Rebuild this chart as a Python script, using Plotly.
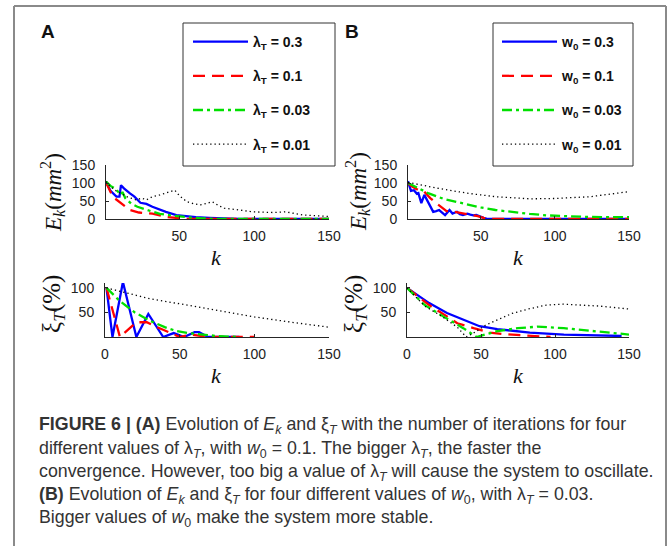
import plotly.graph_objects as go

W, H = 669, 546

# ---------------- data ----------------
# Panel A, top: E_k for lambda_T values
a_top_k_03 = [1, 4, 8, 10, 11, 13, 17, 20, 24, 28, 32, 37, 41, 48, 55, 61, 70, 80, 90, 150]
a_top_e_03 = [104, 78, 62, 62, 94, 85, 71, 62, 45, 42, 34, 25, 20, 11, 7, 5, 3, 1, 0, 0]
a_top_k_01 = [1, 4, 7, 12, 17, 23, 32, 41, 48, 55, 150]
a_top_e_01 = [102, 75, 57, 40, 25, 18, 15, 6, 2, 0, 0]
a_top_k_003 = [1, 4, 7, 11, 12, 14, 18, 22, 27, 32, 37, 43, 50, 55, 65, 75, 150]
a_top_e_003 = [104, 92, 85, 67, 75, 57, 42, 34, 27, 20, 14, 11, 7, 5, 2, 0, 0]
a_top_k_001 = [1, 4, 7, 11, 15, 21, 25, 28, 32, 37, 44, 47, 50, 55, 60, 64, 68, 72, 76, 80,
               90, 99, 113, 121, 133, 141, 150]
a_top_e_001 = [104, 90, 80, 71, 62, 53, 58, 53, 62, 67, 76, 80, 65, 48, 42, 39, 43, 48, 38, 30,
               25, 20, 18, 20, 11, 9, 7]

# Panel A, bottom: xi_T (%)
a_bot_k_03 = [1, 5, 12, 21, 29, 39, 46, 53, 60, 63, 69, 90]
a_bot_x_03 = [100, 0, 112, 0, 47, 0, 8, 0, 10, 10, 0, 0]
a_bot_k_01 = [1, 10, 21, 28, 35, 50, 57, 62, 70, 100]
a_bot_x_01 = [100, 0, 30, 30, 20, 0, 5, 3, 0, 0]
a_bot_k_003 = [1, 10, 20, 30, 40, 48, 56, 64, 75, 90]
a_bot_x_003 = [100, 73, 50, 33, 20, 12, 8, 5, 2, 0]
a_bot_k_001 = [1, 15, 30, 55, 80, 100, 125, 150]
a_bot_x_001 = [100, 90, 78, 65, 52, 41, 30, 20]

# Panel B, top: E_k for w_0 values
b_top_k_03 = [1, 3, 5, 7, 8, 10, 12, 14, 16, 18, 20, 22, 24, 26, 29, 31, 34, 36, 38, 41,
              43, 45, 47, 50, 52, 55, 150]
b_top_e_03 = [105, 78, 80, 70, 72, 44, 67, 50, 35, 20, 22, 25, 18, 11, 25, 15, 20, 13, 11, 15,
              12, 10, 11, 6, 3, 0, 0]
b_top_k_01 = [1, 3, 6, 10, 12, 16, 20, 24, 27, 31, 35, 38, 44, 48, 52, 56, 150]
b_top_e_01 = [100, 92, 85, 76, 76, 58, 44, 30, 22, 21, 18, 15, 11, 8, 3, 0, 0]
b_top_k_003 = [1, 8, 15, 25, 38, 50, 60, 72, 83, 95, 105, 120, 135, 150]
b_top_e_003 = [100, 85, 71, 56, 44, 32, 25, 19, 14, 10, 8, 6, 5, 5]
b_top_k_001 = [1, 20, 42, 60, 83, 100, 124, 140, 150]
b_top_e_001 = [102, 86, 71, 62, 56, 57, 62, 70, 76]

# Panel B, bottom: xi_T (%)
b_bot_k_03 = [0, 15, 27, 38, 49, 61, 83, 106, 125, 145]
b_bot_x_03 = [100, 69, 49, 35, 22, 16, 9, 5, 3, 2]
b_bot_k_01 = [0, 15, 27, 34, 45, 56, 65, 74, 85, 97]
b_bot_x_01 = [100, 65, 42, 28, 18, 9, 6, 4, 2, 0]
b_bot_k_003 = [0, 12, 25, 38, 47, 55, 61, 75, 88, 106, 128, 150]
b_bot_x_003 = [100, 65, 41, 18, 0, 6, 12, 18, 21, 18, 12, 5]
b_bot_k_001 = [0, 12, 22, 34, 40, 46, 53, 62, 71, 82, 94, 105, 117, 130, 150]
b_bot_x_001 = [100, 63, 45, 20, 0, 10, 24, 36, 48, 57, 65, 67, 65, 63, 57]

a_labels = ["0.3", "0.1", "0.03", "0.01"]
b_labels = ["0.3", "0.1", "0.03", "0.01"]

x_ticks_top = [50, 100, 150]
x_ticks_bot = [0, 50, 100, 150]
y_ticks_top = [0, 50, 100, 150]
y_ticks_bot = [50, 100]

# ---------------- styles ----------------
styles = [
    dict(color="#0000FF", width=2.3, dash="solid"),
    dict(color="#FF0000", width=2.3, dash="12px,7px"),
    dict(color="#00E000", width=2.3, dash="10px,4px,3px,4px"),
    dict(color="#000000", width=1.3, dash="1.3px,3px"),
]

def px_x(p):
    return p / W

def px_y(p):
    return 1 - p / H

fig = go.Figure()

panels = {
    "A": dict(top=[(a_top_k_03, a_top_e_03), (a_top_k_01, a_top_e_01), (a_top_k_003, a_top_e_003), (a_top_k_001, a_top_e_001)],
              bot=[(a_bot_k_03, a_bot_x_03), (a_bot_k_01, a_bot_x_01), (a_bot_k_003, a_bot_x_003), (a_bot_k_001, a_bot_x_001)],
              labels=a_labels, sym="λ<sub>T</sub>", legend="legend",
              xt="x", yt="y", xb="x2", yb="y2"),
    "B": dict(top=[(b_top_k_03, b_top_e_03), (b_top_k_01, b_top_e_01), (b_top_k_003, b_top_e_003), (b_top_k_001, b_top_e_001)],
              bot=[(b_bot_k_03, b_bot_x_03), (b_bot_k_01, b_bot_x_01), (b_bot_k_003, b_bot_x_003), (b_bot_k_001, b_bot_x_001)],
              labels=b_labels, sym="w<sub>0</sub>", legend="legend2",
              xt="x3", yt="y3", xb="x4", yb="y4"),
}

for name, p in panels.items():
    for i, ((kt, et), (kb, xb), lab) in enumerate(zip(p["top"], p["bot"], p["labels"])):
        grp = f"{name}{i}"
        fig.add_trace(go.Scatter(x=kt, y=et, mode="lines", line=styles[i],
                                 name=f"<b>{p['sym']} = {lab}</b>", legendgroup=grp,
                                 legend=p["legend"], xaxis=p["xt"], yaxis=p["yt"]))
        fig.add_trace(go.Scatter(x=kb, y=xb, mode="lines", line=styles[i],
                                 showlegend=False, legendgroup=grp, legend=p["legend"],
                                 xaxis=p["xb"], yaxis=p["yb"]))

tickfont = dict(family="Liberation Sans, Arial, sans-serif", size=14, color="#222")
axis_common = dict(showline=True, linecolor="#262626", linewidth=1, ticks="inside",
                   ticklen=3, tickcolor="#262626", showgrid=False, zeroline=False,
                   tickfont=tickfont, automargin=False)

top_y = [px_y(219), px_y(165)]
bot_y = [px_y(337), px_y(283)]

fig.update_layout(
    xaxis=dict(domain=[px_x(106), px_x(329)], range=[1, 150], tickvals=x_ticks_top, anchor="y", ticklabelstandoff=4, **axis_common),
    yaxis=dict(domain=top_y, range=[0, 150], tickvals=y_ticks_top, anchor="x", ticklabelstandoff=7, **axis_common),
    xaxis2=dict(domain=[px_x(105), px_x(329)], range=[0, 150], tickvals=x_ticks_bot, anchor="y2", ticklabelstandoff=4, **axis_common),
    yaxis2=dict(domain=bot_y, range=[0, 110], tickvals=y_ticks_bot, anchor="x2", ticklabelstandoff=7, **axis_common),
    xaxis3=dict(domain=[px_x(408), px_x(629)], range=[1, 150], tickvals=x_ticks_top, anchor="y3", ticklabelstandoff=4, **axis_common),
    yaxis3=dict(domain=top_y, range=[0, 150], tickvals=y_ticks_top, anchor="x3", ticklabelstandoff=7, **axis_common),
    xaxis4=dict(domain=[px_x(407), px_x(629)], range=[0, 150], tickvals=x_ticks_bot, anchor="y4", ticklabelstandoff=4, **axis_common),
    yaxis4=dict(domain=bot_y, range=[0, 110], tickvals=y_ticks_bot, anchor="x4", ticklabelstandoff=7, **axis_common),
)

legend_common = dict(bgcolor="rgba(0,0,0,0)", borderwidth=0, tracegroupgap=13,
                     font=dict(family="Liberation Sans, Arial, sans-serif", size=14, color="#111"),
                     xanchor="left", yanchor="top", itemwidth=55, traceorder="grouped")
fig.update_layout(
    legend=dict(x=px_x(188), y=px_y(26), **legend_common),
    legend2=dict(x=px_x(497), y=px_y(26), **legend_common),
)

shapes = []
# legend boxes
for x0, x1 in [(183, 335), (493, 633)]:
    shapes.append(dict(type="rect", xref="paper", yref="paper", x0=px_x(x0), x1=px_x(x1),
                       y0=px_y(166), y1=px_y(23), line=dict(color="#333", width=1)))
# outer gray frame
frame = dict(color="#8a8a8a", width=2)
shapes.append(dict(type="line", xref="paper", yref="paper", x0=px_x(14), x1=px_x(666), y0=px_y(6), y1=px_y(6), line=frame))
shapes.append(dict(type="line", xref="paper", yref="paper", x0=px_x(14), x1=px_x(14), y0=px_y(6), y1=0, line=frame))
shapes.append(dict(type="line", xref="paper", yref="paper", x0=px_x(666), x1=px_x(666), y0=px_y(6), y1=0, line=frame))

serif = "Liberation Serif, Times New Roman, serif"
sans = "Liberation Sans, Arial, sans-serif"
ann = []
# panel letters
ann.append(dict(text="<b>A</b>", x=px_x(48), y=px_y(31), font=dict(family=sans, size=19, color="#111")))
ann.append(dict(text="<b>B</b>", x=px_x(352), y=px_y(31), font=dict(family=sans, size=19, color="#111")))
# axis titles
for xc in (52, 357):
    ann.append(dict(text="<i>E</i><sub><i>k</i></sub>(<i>mm</i><sup>2</sup>)", x=px_x(xc), y=px_y(192),
                    textangle=-90, font=dict(family=serif, size=23, color="#111")))
for xc in (53, 355):
    ann.append(dict(text="ξ<sub><i>T</i></sub>(%)", x=px_x(xc), y=px_y(304),
                    textangle=-90, font=dict(family=serif, size=25, color="#111")))
for xc in (216, 518):
    for yc in (257, 375):
        ann.append(dict(text="<i>k</i>", x=px_x(xc), y=px_y(yc), font=dict(family=serif, size=22, color="#111")))

cap_lines = [
    "<b>FIGURE 6 | (A)</b> Evolution of <i>E<sub>k</sub></i> and ξ<sub><i>T</i></sub> with the number of iterations for four",
    "different values of λ<sub><i>T</i></sub>, with <i>w</i><sub>0</sub> = 0.1. The bigger λ<sub><i>T</i></sub>, the faster the",
    "convergence. However, too big a value of λ<sub><i>T</i></sub> will cause the system to oscillate.",
    "<b>(B)</b> Evolution of <i>E<sub>k</sub></i> and ξ<sub><i>T</i></sub> for four different values of <i>w</i><sub>0</sub>, with λ<sub><i>T</i></sub> = 0.03.",
    "Bigger values of <i>w</i><sub>0</sub> make the system more stable.",
]
cap_y = [425, 449, 472, 495, 518]
for t, yc in zip(cap_lines, cap_y):
    ann.append(dict(text=t, x=px_x(37), y=px_y(yc), xanchor="left",
                    font=dict(family=sans, size=17.8, color="#333")))

for a in ann:
    a.setdefault("xref", "paper")
    a.setdefault("yref", "paper")
    a.setdefault("showarrow", False)
    a.setdefault("xanchor", "center")
    a.setdefault("yanchor", "middle")

fig.update_layout(width=W, height=H, margin=dict(l=0, r=0, t=0, b=0),
                  paper_bgcolor="white", plot_bgcolor="white",
                  shapes=shapes, annotations=ann, showlegend=True)

fig.write_html("out.html")
